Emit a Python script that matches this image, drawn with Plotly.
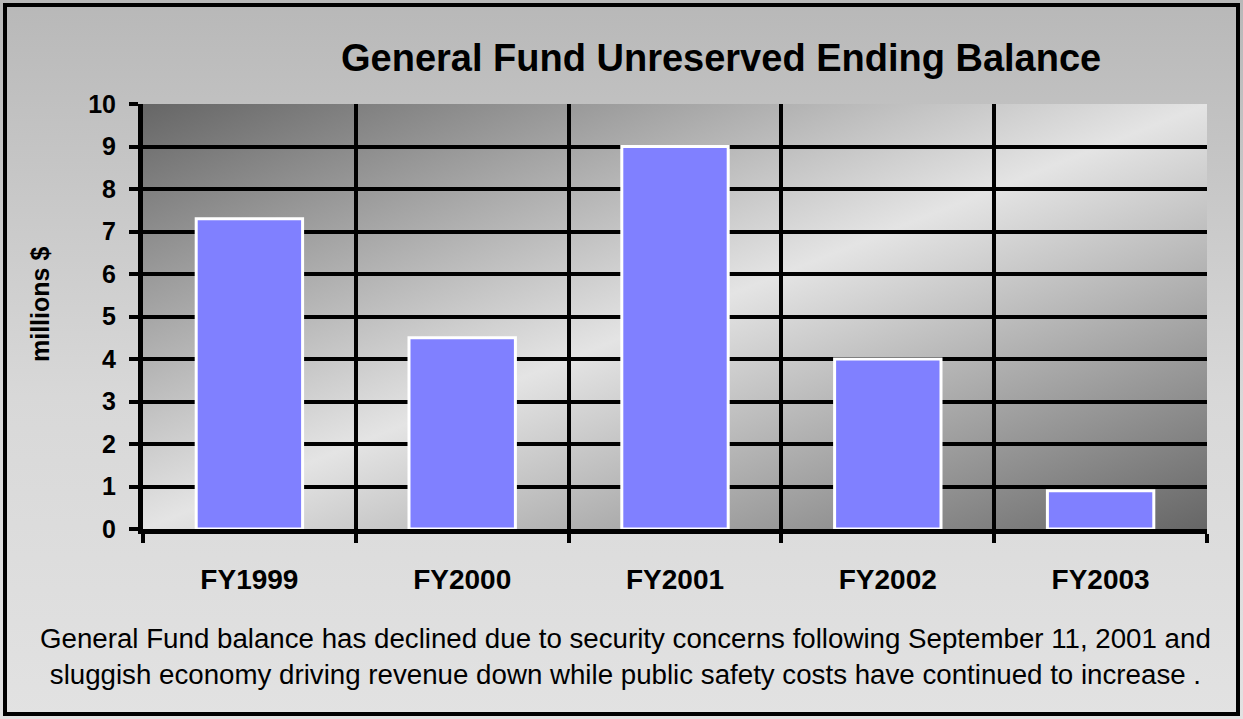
import plotly.graph_objects as go
import urllib.parse

# Data
categories = ["FY1999", "FY2000", "FY2001", "FY2002", "FY2003"]
balance_millions = [7.3, 4.5, 9.0, 4.0, 0.9]
y_ticks = list(range(0, 11))

W, H = 1243, 719
FONT = "Liberation Sans, Arial, sans-serif"

# Plot-area pixel box
px0, px1 = 143, 1207
py_top, py_bot = 104, 529


def svg_uri(svg):
    return "data:image/svg+xml;charset=utf-8," + urllib.parse.quote(svg)


# Figure background: soft vertical gray gradient
bg_svg = (
    '<svg xmlns="http://www.w3.org/2000/svg" width="100" height="100" preserveAspectRatio="none">'
    '<defs><linearGradient id="g" x1="0" y1="0" x2="0" y2="1">'
    '<stop offset="0" stop-color="#b8b8b8"/>'
    '<stop offset="0.55" stop-color="#d8d8d8"/>'
    '<stop offset="1" stop-color="#e2e2e2"/>'
    '</linearGradient></defs>'
    '<rect width="100" height="100" fill="url(#g)"/></svg>'
)

# Plot area: diagonal dark-light-dark gradient
pa_svg = (
    '<svg xmlns="http://www.w3.org/2000/svg" width="100" height="100" preserveAspectRatio="none">'
    '<defs><linearGradient id="p" x1="0" y1="0" x2="1" y2="1">'
    '<stop offset="0" stop-color="#666666"/>'
    '<stop offset="0.5" stop-color="#e4e4e4"/>'
    '<stop offset="1" stop-color="#666666"/>'
    '</linearGradient></defs>'
    '<rect width="100" height="100" fill="url(#p)"/></svg>'
)

fig = go.Figure()
fig.add_trace(go.Bar(
    x=categories,
    y=balance_millions,
    width=0.5,
    marker=dict(color="#8080FF", line=dict(color="white", width=3)),
    hoverinfo="x+y",
))

fig.update_layout(
    width=W, height=H,
    autosize=False,
    margin=dict(l=0, r=0, t=0, b=0, pad=0),
    paper_bgcolor="#d0d0d0",
    plot_bgcolor="rgba(0,0,0,0)",
    showlegend=False,
    bargap=0.5,
    font=dict(family=FONT, color="black"),
    images=[
        dict(source=svg_uri(bg_svg), xref="paper", yref="paper", x=0, y=1,
             sizex=1, sizey=1, sizing="stretch", layer="below"),
        dict(source=svg_uri(pa_svg), xref="x domain", yref="y domain", x=0, y=1,
             sizex=1, sizey=1, sizing="stretch", layer="below"),
    ],
    xaxis=dict(
        domain=[px0 / W, px1 / W],
        type="category",
        tickson="boundaries",
        automargin=False,
        showgrid=True, gridcolor="black", gridwidth=4,
        ticks="outside", ticklen=9, tickwidth=4, tickcolor="black",
        ticklabelstandoff=21,
        showline=True, linecolor="black", linewidth=5,
        tickfont=dict(family=FONT, size=28, color="black", weight="bold"),
        range=[-0.5, 4.5],
        fixedrange=True,
    ),
    yaxis=dict(
        domain=[(H - py_bot) / H, (H - py_top) / H],
        range=[0, 10],
        tickvals=y_ticks,
        automargin=False,
        showgrid=True, gridcolor="black", gridwidth=4,
        ticks="outside", ticklen=9, tickwidth=4, tickcolor="black",
        ticklabelstandoff=8,
        showline=True, linecolor="black", linewidth=5,
        zeroline=False,
        tickfont=dict(family=FONT, size=25, color="black", weight="bold"),
        fixedrange=True,
    ),
    shapes=[
        # outer frame
        dict(type="rect", xref="paper", yref="paper",
             x0=5 / W, x1=(W - 5) / W, y0=5 / H, y1=(H - 5) / H,
             line=dict(color="black", width=4), fillcolor="rgba(0,0,0,0)", layer="above"),
    ],
    annotations=[
        dict(text="<b>General Fund Unreserved Ending Balance</b>", xref="paper", yref="paper",
             x=721 / W, y=(H - 58) / H, showarrow=False,
             font=dict(family=FONT, size=38, color="black"), xanchor="center", yanchor="middle"),
        dict(text="<b>millions $</b>", xref="paper", yref="paper",
             x=40 / W, y=(H - 305) / H, showarrow=False, textangle=-90,
             font=dict(family=FONT, size=25, color="black"), xanchor="center", yanchor="middle"),
        dict(text="General Fund balance has declined due to security concerns following September 11, 2001 and<br>"
                  "sluggish economy driving revenue down while public safety costs have continued to increase .",
             xref="paper", yref="paper", x=625 / W, y=(H - 656) / H, showarrow=False,
             font=dict(family=FONT, size=27.7, color="black"), align="center",
             xanchor="center", yanchor="middle"),
    ],
)

fig.write_html("out.html", config={"displayModeBar": False})
